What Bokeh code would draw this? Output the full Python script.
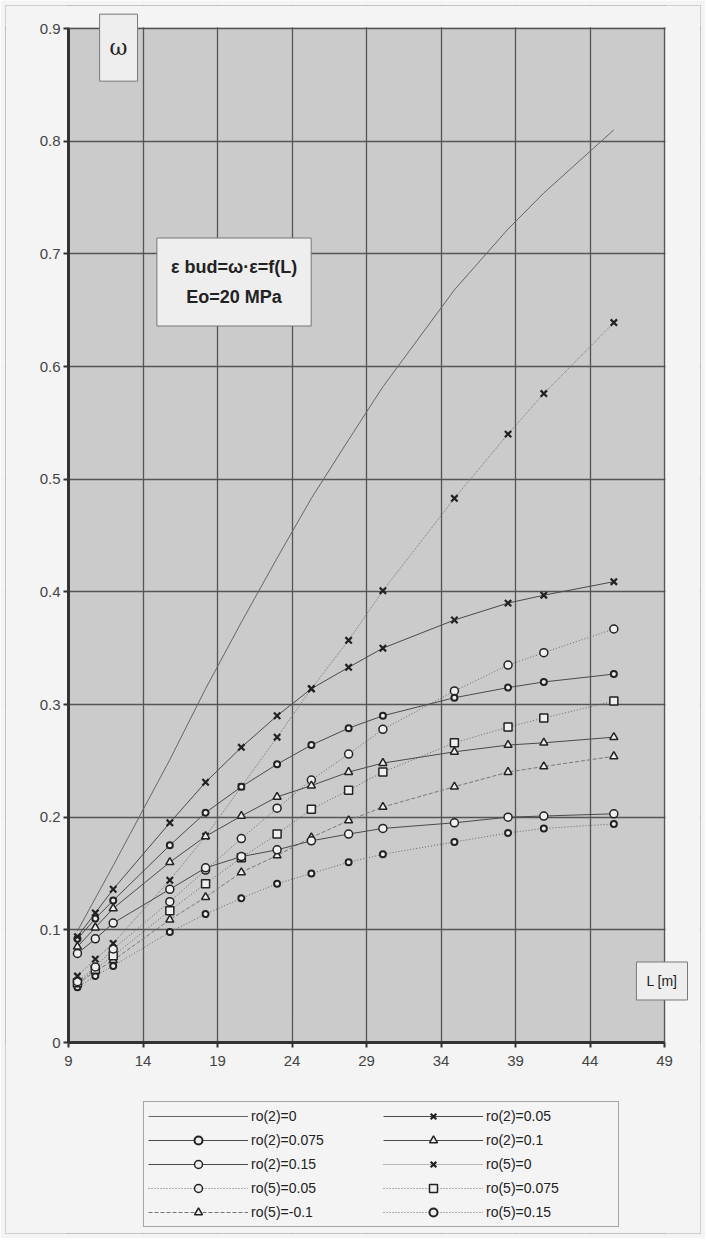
from bokeh.plotting import figure
from bokeh.models import Label, Legend, LegendItem, FixedTicker, BoxAnnotation
from bokeh.embed import file_html
from bokeh.resources import INLINE

# ---- data ----
L = [9.6, 10.8, 12.0, 15.8, 18.2, 20.6, 23.0, 25.3, 27.8, 30.1, 34.9, 38.5, 40.9, 45.6]

ro2_0    = [0.099, 0.128, 0.157, 0.251, 0.314, 0.373, 0.430, 0.483, 0.535, 0.582, 0.668, 0.722, 0.754, 0.810]
ro2_005  = [0.094, 0.115, 0.136, 0.195, 0.231, 0.262, 0.290, 0.314, 0.333, 0.350, 0.375, 0.390, 0.397, 0.409]
ro2_0075 = [0.092, 0.110, 0.126, 0.175, 0.204, 0.227, 0.247, 0.264, 0.279, 0.290, 0.306, 0.315, 0.320, 0.327]
ro2_01   = [0.085, 0.102, 0.119, 0.160, 0.183, 0.201, 0.218, 0.228, 0.240, 0.248, 0.258, 0.264, 0.266, 0.271]
ro2_015  = [0.079, 0.092, 0.106, 0.136, 0.155, 0.165, 0.171, 0.179, 0.185, 0.190, 0.195, 0.200, 0.201, 0.203]
ro5_0    = [0.059, 0.074, 0.088, 0.144, 0.183, 0.227, 0.271, 0.314, 0.357, 0.401, 0.483, 0.540, 0.576, 0.639]
ro5_005  = [0.054, 0.067, 0.083, 0.125, 0.153, 0.181, 0.208, 0.233, 0.256, 0.278, 0.312, 0.335, 0.346, 0.367]
ro5_0075 = [0.053, 0.065, 0.077, 0.117, 0.141, 0.164, 0.185, 0.207, 0.224, 0.240, 0.266, 0.280, 0.288, 0.303]
ro5_01   = [0.052, 0.063, 0.073, 0.109, 0.129, 0.151, 0.166, 0.182, 0.197, 0.209, 0.227, 0.240, 0.245, 0.254]
ro5_015  = [0.049, 0.059, 0.068, 0.098, 0.114, 0.128, 0.141, 0.150, 0.160, 0.167, 0.178, 0.186, 0.190, 0.194]

x_ticks = [9, 14, 19, 24, 29, 34, 39, 44, 49]
y_ticks = [0, 0.1, 0.2, 0.3, 0.4, 0.5, 0.6, 0.7, 0.8, 0.9]
y_tick_labels = ["0", "0.1", "0.2", "0.3", "0.4", "0.5", "0.6", "0.7", "0.8", "0.9"]

X_MIN, X_MAX = 9, 49
Y_MIN, Y_MAX = 0, 0.9

FONT = "Liberation Sans"
PLOT_BG = "#cbcbcb"
PAGE_BG = "#f4f4f4"
MFILL = "#efefef"

# layout: the frame is widened past the axes so that the legend and the
# boxed notes (which sit outside the chart area) are not clipped
W, H = 705, 1238
B = 5              # thin border all round
PX_X = 14.9        # px per unit of L
PX_Y = 1126.67     # px per unit of omega
AX_LEFT_PX = 68    # page x of L = 9
AX_TOP_PX = 28     # page y of omega = 0.9
x_start = X_MIN - (AX_LEFT_PX - B) / PX_X
x_end = x_start + (W - 2 * B) / PX_X
y_end = Y_MAX + (AX_TOP_PX - B) / PX_Y
y_start = y_end - (H - 2 * B) / PX_Y

p = figure(width=W, height=H, x_range=(x_start, x_end), y_range=(y_start, y_end),
           output_backend="svg", toolbar_location=None,
           min_border_left=B, min_border_right=B, min_border_top=B, min_border_bottom=B)
p.background_fill_color = PLOT_BG
p.border_fill_color = PAGE_BG
p.outline_line_color = "#b4b4b4"
p.outline_line_width = 1

# page-coloured areas outside the chart rectangle
for kw in (dict(top=Y_MIN), dict(bottom=Y_MAX + 0.0012),
           dict(left=X_MAX + 0.07), dict(right=X_MIN - 0.07)):
    p.add_layout(BoxAnnotation(fill_color=PAGE_BG, fill_alpha=1, line_color=None,
                               level="underlay", **kw))

p.xgrid.grid_line_color = "#555555"
p.ygrid.grid_line_color = "#555555"
p.xgrid.grid_line_width = 1.3
p.ygrid.grid_line_width = 1.3
p.xgrid.bounds = (Y_MIN, Y_MAX)
p.ygrid.bounds = (X_MIN, X_MAX)

p.xaxis.ticker = FixedTicker(ticks=x_ticks)
p.yaxis.ticker = FixedTicker(ticks=y_ticks)
p.yaxis.major_label_overrides = {t: s for t, s in zip(y_ticks, y_tick_labels)}
p.xaxis.fixed_location = Y_MIN
p.yaxis.fixed_location = X_MIN
p.xaxis.bounds = (X_MIN, X_MAX)
p.yaxis.bounds = (Y_MIN, Y_MAX)
for ax in (p.xaxis, p.yaxis):
    ax.axis_line_color = "#333333"
    ax.axis_line_width = 3
    ax.major_tick_line_color = "#333333"
    ax.major_tick_line_width = 2
    ax.major_tick_in = 0
    ax.major_tick_out = 5
    ax.minor_tick_line_color = None
    ax.major_label_text_font = FONT
    ax.major_label_text_font_size = "15px"
    ax.major_label_text_color = "#444444"
p.yaxis.major_label_standoff = 3
p.xaxis.major_label_standoff = 8

LINE = "#4a4a4a"
items = {}

def series(name, ys, marker=None, size=8, dash="solid", lcolor=LINE, lw=1.0, mlw=1.5, fill=MFILL):
    rs = []
    rs.append(p.line(L, ys, line_color=lcolor, line_width=lw, line_dash=dash))
    if marker:
        rs.append(p.scatter(L, ys, marker=marker, size=size, line_color="#222222",
                            line_width=mlw, fill_color=fill))
    items[name] = rs

series("ro(2)=0", ro2_0, None, lcolor="#666666")
series("ro(5)=0.15", ro5_015, "circle", size=6, dash="1 2", lcolor="#666666", mlw=2)
series("ro(5)=-0.1", ro5_01, "triangle", size=8, dash="4 2", lcolor="#777777")
series("ro(5)=0.075", ro5_0075, "square", size=8, dash="1 2", lcolor="#666666")
series("ro(5)=0.05", ro5_005, "circle", size=8, dash="1 2", lcolor="#666666")
series("ro(5)=0", ro5_0, "x", size=9, dash="1 1", lcolor="#7a7a7a", mlw=2.2)
series("ro(2)=0.15", ro2_015, "circle", size=8)
series("ro(2)=0.1", ro2_01, "triangle", size=8)
series("ro(2)=0.075", ro2_0075, "circle", size=6, mlw=2)
series("ro(2)=0.05", ro2_005, "x", size=9, mlw=2.2)

order = ["ro(2)=0", "ro(2)=0.075", "ro(2)=0.15", "ro(5)=0.05", "ro(5)=-0.1",
         "ro(2)=0.05", "ro(2)=0.1", "ro(5)=0", "ro(5)=0.075", "ro(5)=0.15"]
legend = Legend(items=[LegendItem(label=n, renderers=items[n]) for n in order],
                location=(138, 6), orientation="vertical", nrows=5, ncols=2,
                padding=4, spacing=4, margin=0,
                label_height=20, glyph_height=20, glyph_width=100,
                label_standoff=3, label_width=128,
                label_text_font=FONT, label_text_font_size="14px", label_text_color="#222222",
                border_line_color="#555555", border_line_width=1,
                background_fill_color=PAGE_BG, background_fill_alpha=1)
p.add_layout(legend)

box_style = dict(background_fill_color="#eeeeee", background_fill_alpha=1,
                 border_line_color="#777777", border_line_width=1,
                 text_align="center", text_baseline="middle")

p.add_layout(Label(x=12.36, y=0.883, text="ω", text_font="DejaVu Serif",
                   text_font_size="22px", text_color="#222222", padding=(10, 21), **box_style))
p.add_layout(Label(x=20.11, y=0.675, text="ε bud=ω·ε=f(L)\nEo=20 MPa", text_font=FONT,
                   text_font_style="bold", text_font_size="18px", text_color="#222222",
                   text_line_height=1.5, padding=(14, 19), **box_style))
p.add_layout(Label(x=48.83, y=0.0546, text="L [m]", text_font=FONT,
                   text_font_size="14px", text_color="#222222", padding=(10, 11), **box_style))

open("out.html", "w").write(file_html(p, INLINE))
